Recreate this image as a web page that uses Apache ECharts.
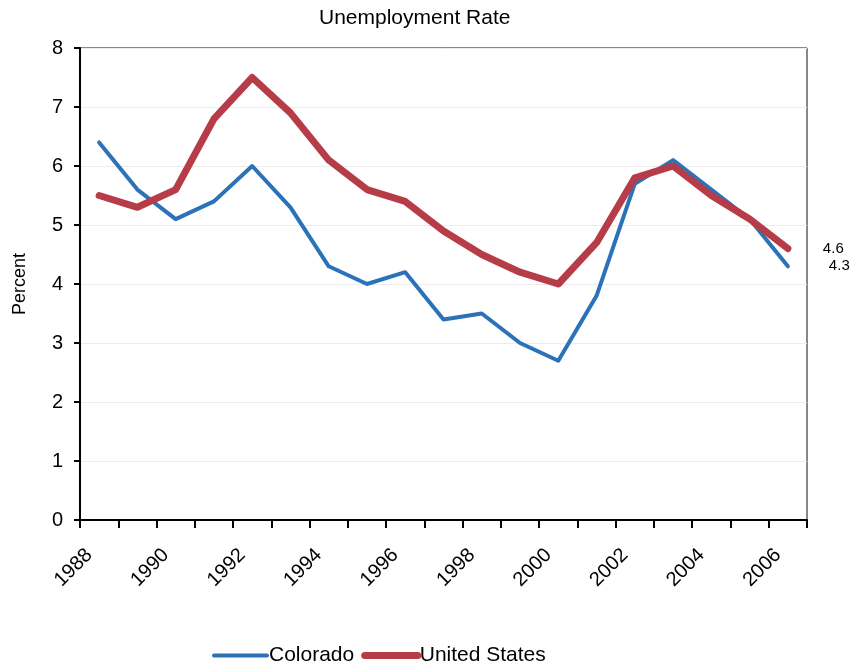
<!DOCTYPE html>
<html>
<head>
<meta charset="utf-8">
<script src="https://cdn.jsdelivr.net/npm/echarts@6/dist/echarts.min.js"></script>
<style>
  html, body { margin: 0; padding: 0; background: #fff; }
  #chart { width: 861px; height: 669px; }
</style>
</head>
<body>
<div id="chart"></div>
<script>
// Annual unemployment rate, percent
const years = ['1988','1989','1990','1991','1992','1993','1994','1995','1996','1997',
               '1998','1999','2000','2001','2002','2003','2004','2005','2006'];
const colorado = [6.4, 5.6, 5.1, 5.4, 6.0, 5.3, 4.3, 4.0, 4.2, 3.4,
                  3.5, 3.0, 2.7, 3.8, 5.7, 6.1, 5.6, 5.1, 4.3];
const unitedStates = [5.5, 5.3, 5.6, 6.8, 7.5, 6.9, 6.1, 5.6, 5.4, 4.9,
                      4.5, 4.2, 4.0, 4.7, 5.8, 6.0, 5.5, 5.1, 4.6];
const yTicks = [0, 1, 2, 3, 4, 5, 6, 7, 8];

const FONT = 'Liberation Sans, Arial, sans-serif';

function endLabel(dx) {
  return {
    show: true, distance: 0, offset: [dx, 0],
    formatter: p => Number(p.value).toFixed(1),
    color: '#000', fontSize: 15, fontFamily: FONT
  };
}

const chart = echarts.init(document.getElementById('chart'), null, { renderer: 'canvas' });
chart.setOption({
  animation: false,
  backgroundColor: '#fff',
  title: {
    text: 'Unemployment Rate',
    left: 314, top: 3,
    textStyle: { fontFamily: FONT, fontSize: 21, fontWeight: 'normal', color: '#000' }
  },
  grid: {
    left: 80, right: 54, top: 48, bottom: 149,
    show: true, borderColor: '#111', borderWidth: 1
  },
  legend: {
    top: 640, left: 207,
    itemWidth: 53, itemHeight: 14, itemGap: 7,
    itemStyle: { opacity: 0 },
    lineStyle: { width: 'inherit', cap: 'round' },
    textStyle: { fontFamily: FONT, fontSize: 21, color: '#000', padding: [0, 0, 0, -3] },
    data: ['Colorado', 'United States']
  },
  xAxis: {
    type: 'category',
    data: years,
    boundaryGap: true,
    axisLine: { lineStyle: { color: '#000', width: 2 } },
    axisTick: { show: true, interval: 0, length: 8, lineStyle: { color: '#000', width: 2 } },
    axisLabel: {
      interval: 1, rotate: 45, margin: 22, padding: [0, 14, 0, 0],
      fontFamily: FONT, fontSize: 20, color: '#000'
    },
    splitLine: { show: false }
  },
  yAxis: {
    type: 'value',
    min: yTicks[0], max: yTicks[yTicks.length - 1], interval: 1,
    name: 'Percent', nameLocation: 'middle', nameGap: 51, nameRotate: 90,
    nameTextStyle: { fontFamily: FONT, fontSize: 18, color: '#000' },
    axisLine: { show: true, lineStyle: { color: '#000', width: 2 } },
    axisTick: { show: true, length: 6, lineStyle: { color: '#000', width: 2 } },
    axisLabel: { margin: 17, fontFamily: FONT, fontSize: 20, color: '#000' },
    splitLine: { show: true, lineStyle: { color: '#ececec', width: 1 } }
  },
  series: [
    {
      name: 'Colorado', type: 'line',
      data: colorado,
      symbol: 'none', color: '#2b72b8',
      lineStyle: { width: 4, color: '#2b72b8', cap: 'round', join: 'round' },
      endLabel: endLabel(41),
      z: 2
    },
    {
      name: 'United States', type: 'line',
      data: unitedStates,
      symbol: 'none', color: '#b63c47',
      lineStyle: { width: 7, color: '#b63c47', cap: 'round', join: 'round' },
      endLabel: endLabel(35),
      z: 3
    }
  ]
});
</script>
</body>
</html>
